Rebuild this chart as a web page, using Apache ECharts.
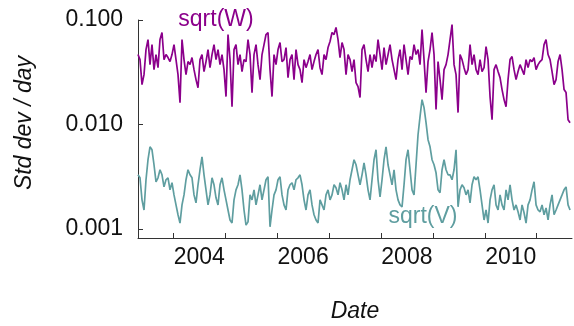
<!DOCTYPE html>
<html>
<head>
<meta charset="utf-8">
<script src="https://cdn.jsdelivr.net/npm/echarts@6/dist/echarts.min.js"></script>
<style>html,body{margin:0;padding:0;background:#fff}#c{width:574px;height:326px}</style>
</head>
<body>
<div id="c"></div>
<script>
// sampling of the series (decimal years)
const startYear = 2003.32;
const stepYears = 0.03853;

// sqrt(W) values (std dev / day)
const sqrtW = [
0.0467,0.0418,0.0241,0.0300,0.0521,0.0650,0.0374,0.0582,0.0335,0.0467,
0.0350,0.0650,0.0759,0.0418,0.0467,0.0437,0.0400,0.0467,0.0582,0.0418,
0.0300,0.0162,0.0650,0.0418,0.0300,0.0400,0.0374,0.0437,0.0335,0.0269,
0.0225,0.0418,0.0467,0.0321,0.0400,0.0521,0.0350,0.0467,0.0582,0.0418,
0.0521,0.0374,0.0467,0.0335,0.0185,0.0726,0.0418,0.0148,0.0521,0.0582,
0.0374,0.0467,0.0321,0.0418,0.0400,0.0650,0.0467,0.0202,0.0467,0.0582,
0.0374,0.0269,0.0467,0.0582,0.0726,0.0759,0.0335,0.0185,0.0467,0.0374,
0.0521,0.0608,0.0400,0.0418,0.0545,0.0281,0.0418,0.0467,0.0269,0.0521,
0.0374,0.0335,0.0252,0.0418,0.0350,0.0400,0.0467,0.0335,0.0400,0.0467,
0.0521,0.0350,0.0300,0.0467,0.0418,0.0545,0.0622,0.0759,0.0726,0.0848,
0.0650,0.0437,0.0608,0.0521,0.0300,0.0467,0.0418,0.0321,0.0418,0.0252,
0.0230,0.0181,0.0521,0.0582,0.0418,0.0321,0.0467,0.0350,0.0467,0.0400,
0.0650,0.0467,0.0335,0.0545,0.0374,0.0467,0.0582,0.0418,0.0335,0.0269,
0.0418,0.0521,0.0335,0.0582,0.0418,0.0300,0.0447,0.0418,0.0582,0.0467,
0.0521,0.0374,0.0811,0.0418,0.0202,0.0400,0.0521,0.0759,0.0467,0.0139,
0.0400,0.0269,0.0173,0.0335,0.0374,0.0467,0.0650,0.0905,0.0374,0.0300,
0.0130,0.0467,0.0418,0.0350,0.0300,0.0335,0.0582,0.0374,0.0467,0.0335,
0.0300,0.0418,0.0321,0.0350,0.0557,0.0418,0.0185,0.0111,0.0335,0.0374,
0.0321,0.0281,0.0216,0.0173,0.0148,0.0269,0.0418,0.0447,0.0335,0.0269,
0.0321,0.0374,0.0335,0.0300,0.0418,0.0350,0.0418,0.0400,0.0437,0.0335,
0.0374,0.0400,0.0418,0.0582,0.0650,0.0467,0.0418,0.0321,0.0241,0.0269,
0.0400,0.0467,0.0335,0.0216,0.0202,0.0111,0.0104
];

// sqrt(V) values (std dev / day)
const sqrtV = [
0.00330,0.00309,0.00190,0.00152,0.00296,0.00460,0.00612,0.00573,0.00412,0.00283,
0.00309,0.00369,0.00330,0.00253,0.00296,0.00309,0.00237,0.00277,0.00212,0.00170,
0.00137,0.00114,0.00170,0.00212,0.00296,0.00369,0.00330,0.00309,0.00212,0.00178,
0.00265,0.00369,0.00491,0.00330,0.00237,0.00170,0.00212,0.00309,0.00265,0.00199,
0.00170,0.00265,0.00309,0.00237,0.00190,0.00152,0.00122,0.00114,0.00190,0.00237,
0.00265,0.00330,0.00237,0.00152,0.00109,0.00117,0.00212,0.00190,0.00237,0.00170,
0.00212,0.00265,0.00190,0.00237,0.00296,0.00316,0.00105,0.00152,0.00212,0.00237,
0.00296,0.00316,0.00212,0.00170,0.00152,0.00237,0.00265,0.00277,0.00237,0.00296,
0.00309,0.00330,0.00265,0.00190,0.00152,0.00212,0.00237,0.00170,0.00137,0.00122,
0.00114,0.00190,0.00170,0.00152,0.00212,0.00237,0.00190,0.00212,0.00265,0.00248,
0.00212,0.00277,0.00237,0.00190,0.00265,0.00212,0.00296,0.00369,0.00460,0.00412,
0.00330,0.00265,0.00330,0.00430,0.00330,0.00237,0.00190,0.00296,0.00460,0.00573,
0.00296,0.00203,0.00296,0.00460,0.00612,0.00412,0.00330,0.00265,0.00369,0.00237,
0.00190,0.00170,0.00163,0.00265,0.00460,0.00573,0.00369,0.00237,0.00212,0.00412,
0.00798,0.0119,0.0173,0.0145,0.0104,0.00715,0.00612,0.00460,0.00412,0.00345,
0.00237,0.00222,0.00369,0.00460,0.00369,0.00330,0.00330,0.00296,0.00369,0.00573,
0.00163,0.00237,0.00265,0.00248,0.00212,0.00237,0.00178,0.00265,0.00316,0.00296,
0.00316,0.00237,0.00170,0.00122,0.00152,0.00114,0.00190,0.00237,0.00265,0.00170,
0.00152,0.00212,0.00170,0.00152,0.00237,0.00190,0.00265,0.00190,0.00152,0.00170,
0.00146,0.00122,0.00170,0.00143,0.00114,0.00170,0.00190,0.00237,0.00283,0.00170,
0.00152,0.00146,0.00170,0.00137,0.00159,0.00122,0.00170,0.00212,0.00137,0.00152,
0.00170,0.00190,0.00212,0.00237,0.00253,0.00170,0.00152
];

// axis ticks / labels
const yearTicks = [2004, 2005, 2006, 2007, 2008, 2009, 2010, 2011];
const yearLabels = [2004, 2006, 2008, 2010];
const yTickValues = [0.001, 0.01, 0.1];

const toPairs = arr => arr.map((v, i) => [startYear + i * stepYears, v]);

const FONT = '"Liberation Sans", Arial, sans-serif';
const chart = echarts.init(document.getElementById('c'), null, {renderer: 'canvas'});
chart.setOption({
  animation: false,
  backgroundColor: '#ffffff',
  grid: {left: 138, right: 2, top: 20, bottom: 88, containLabel: false},
  xAxis: {
    type: 'value',
    min: 2003.32,
    max: 2011.68,
    axisLine: {show: true, onZero: false, lineStyle: {color: '#333', width: 1}},
    axisTick: {show: true, inside: true, length: 5, customValues: yearTicks, lineStyle: {color: '#333'}},
    axisLabel: {
      show: true, margin: 8, color: '#111', fontSize: 23, fontFamily: FONT,
      customValues: yearLabels.map(y => y + 0.5),
      formatter: v => String(Math.floor(v))
    },
    splitLine: {show: false}
  },
  yAxis: {
    type: 'log',
    logBase: 10,
    min: 0.00082,
    max: 0.1,
    axisLine: {show: true, lineStyle: {color: '#333', width: 1}},
    axisTick: {show: true, inside: true, length: 5, customValues: yTickValues, lineStyle: {color: '#333'}},
    axisLabel: {
      show: true, margin: 15, color: '#111', fontSize: 23, fontFamily: FONT,
      customValues: yTickValues,
      formatter: v => Number(v).toFixed(3)
    },
    splitLine: {show: false}
  },
  graphic: [
    {type: 'text', x: 25, y: 123, rotation: Math.PI / 2,
     style: {text: 'Std dev / day', font: 'italic 23px ' + FONT, fill: '#111', textAlign: 'center', textVerticalAlign: 'middle'}},
    {type: 'text', x: 355, y: 312,
     style: {text: 'Date', font: 'italic 23px ' + FONT, fill: '#111', textAlign: 'center', textVerticalAlign: 'middle'}},
    {type: 'text', x: 216, y: 20,
     style: {text: 'sqrt(W)', font: '23px ' + FONT, fill: '#8B008B', textAlign: 'center', textVerticalAlign: 'middle'}},
    {type: 'text', x: 423, y: 217,
     style: {text: 'sqrt(V)', font: '23px ' + FONT, fill: '#5F9EA0', textAlign: 'center', textVerticalAlign: 'middle'}}
  ],
  series: [
    {name: 'sqrt(W)', type: 'line', data: toPairs(sqrtW), showSymbol: false, symbol: 'none',
     lineStyle: {color: '#8B008B', width: 1.7}, z: 2},
    {name: 'sqrt(V)', type: 'line', data: toPairs(sqrtV), showSymbol: false, symbol: 'none',
     lineStyle: {color: '#5F9EA0', width: 1.7}, z: 3}
  ]
});
</script>
</body>
</html>
